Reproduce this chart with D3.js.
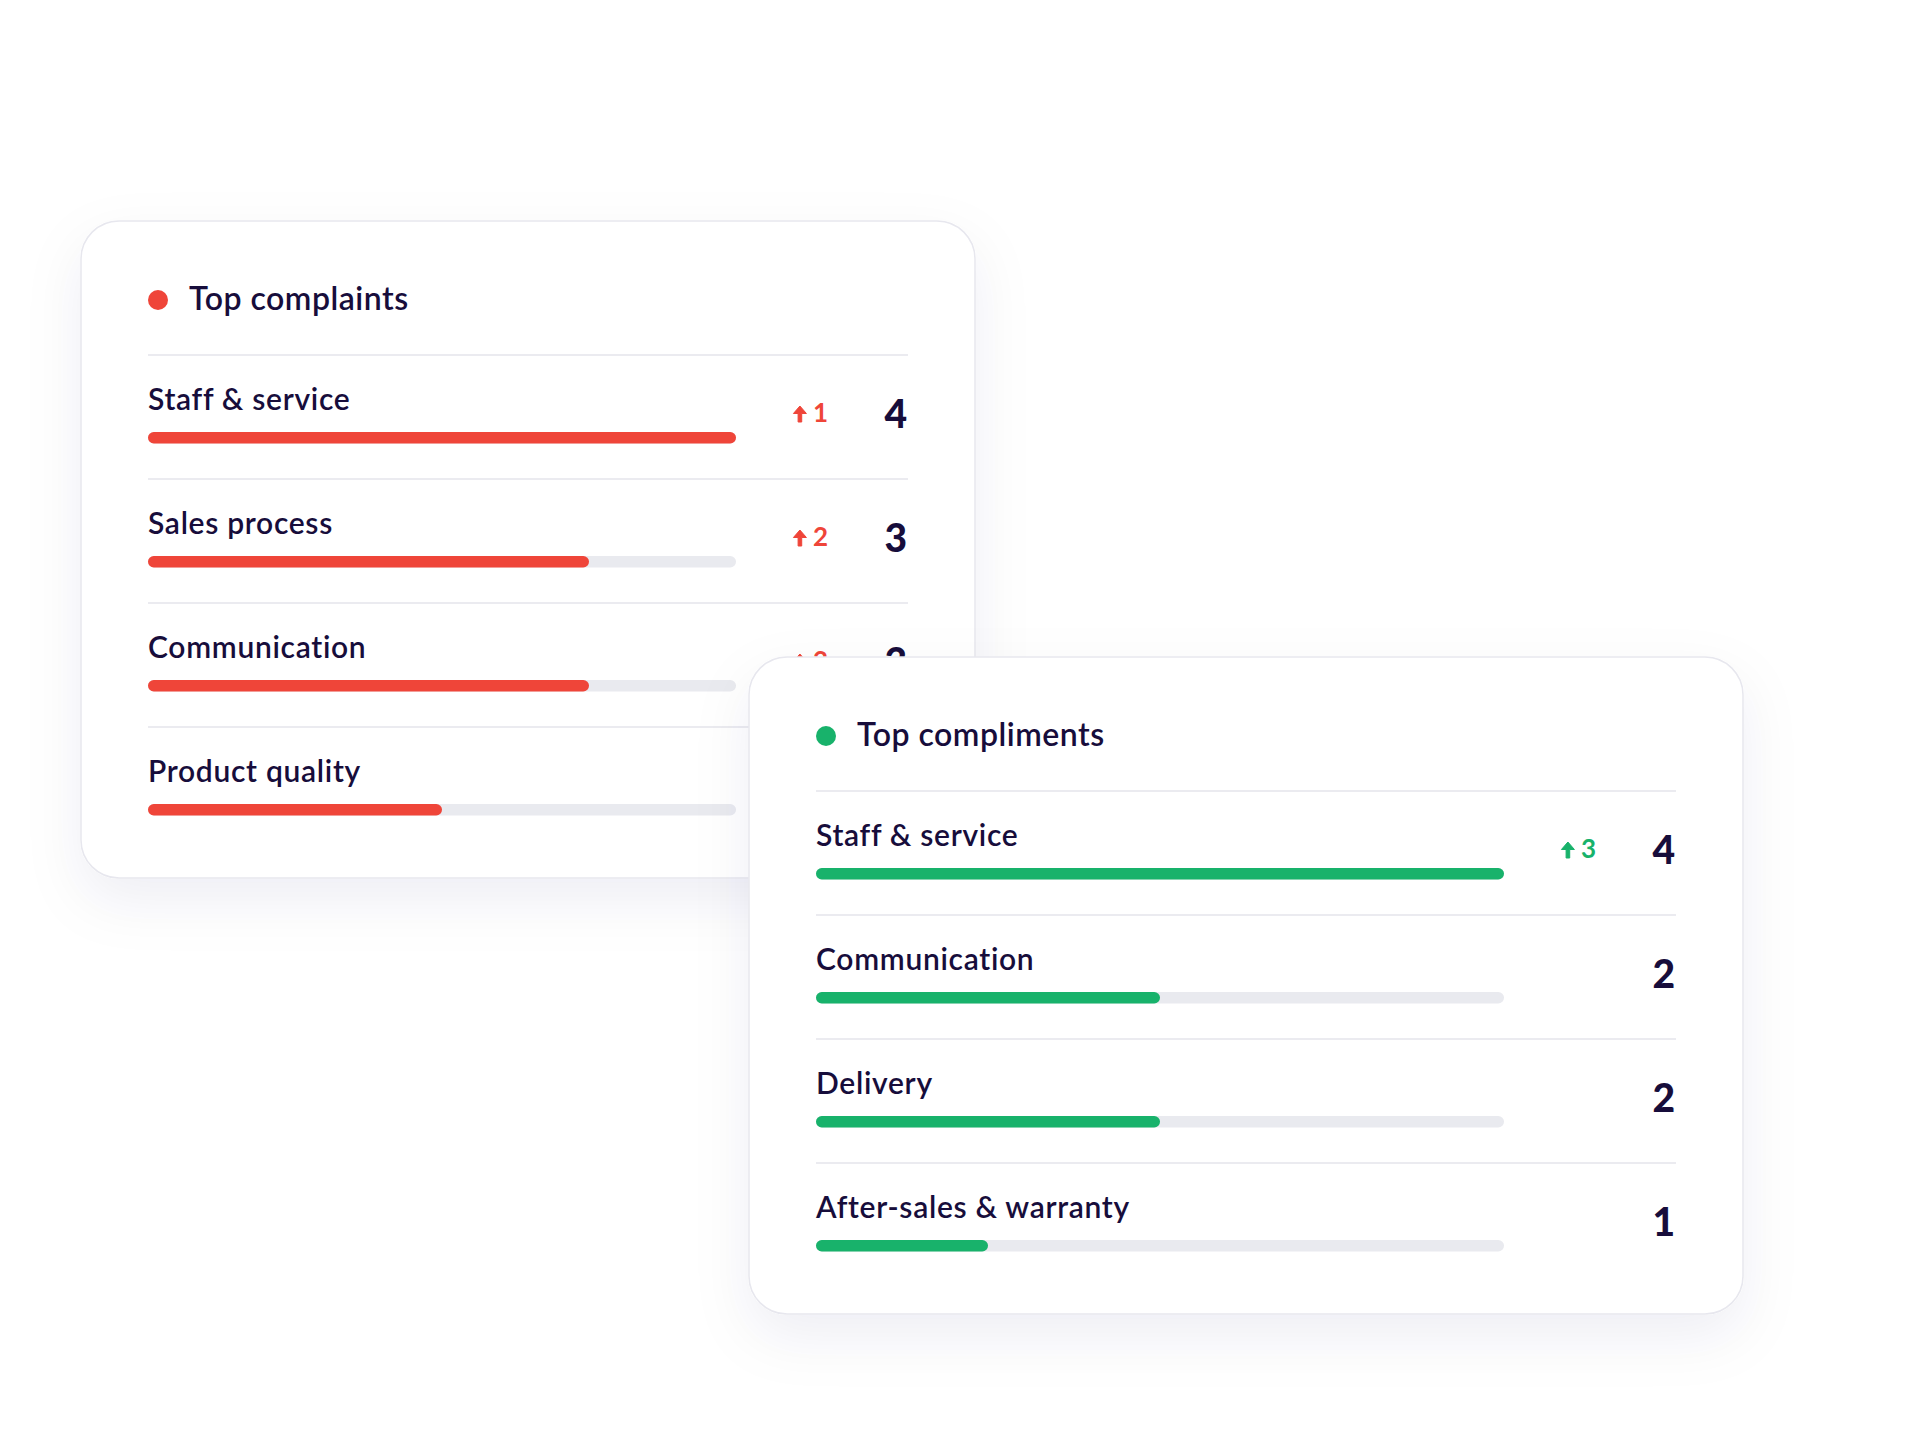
<!DOCTYPE html>
<html>
<head>
<meta charset="utf-8">
<script src="https://cdn.jsdelivr.net/npm/d3@7"></script>
<style>
  html, body { margin: 0; padding: 0; background: #ffffff; }
  svg { display: block; font-family: Lato, "Noto Sans", sans-serif; }
</style>
</head>
<body>
<div id="chart-area"></div>
<script>
// Data
let complaintCategories = ["Staff & service", "Sales process", "Communication", "Product quality"];
let complaintValues = [4, 3, 3, 2];
let complaintDeltas = [1, 2, 2, null];

let complimentCategories = ["Staff & service", "Communication", "Delivery", "After-sales & warranty"];
let complimentValues = [4, 2, 2, 1];
let complimentDeltas = [3, null, null, null];

let scaleMax = 4;

// Colours
let textColor = "#170d3b";
let red = "#ef4539";
let green = "#18b26b";
let trackColor = "#e9eaef";
let lineColor = "#ebebf0";

let width = 1920, height = 1440;

let svg = d3.select("#chart-area").append("svg")
    .attr("width", width)
    .attr("height", height);

svg.append("rect")
    .attr("width", width)
    .attr("height", height)
    .attr("fill", "#ffffff");

// Soft card shadow
let filter = svg.append("defs").append("filter")
    .attr("id", "card-shadow")
    .attr("x", "-20%").attr("y", "-20%")
    .attr("width", "140%").attr("height", "150%");
filter.append("feDropShadow")
    .attr("dx", 0)
    .attr("dy", 22)
    .attr("stdDeviation", 28)
    .attr("flood-color", "#1c1c55")
    .attr("flood-opacity", 0.065);

// Shared layout inside a card
let pad = 67,
    headerH = 134,
    rowH = 124,
    sideW = 172;

function drawCard(opts) {
    let g = svg.append("g")
        .attr("transform", "translate(" + opts.x + "," + opts.y + ")");

    g.append("rect")
        .attr("width", opts.w)
        .attr("height", opts.h)
        .attr("rx", 38)
        .attr("fill", "#ffffff")
        .attr("stroke", "#e7e7ee")
        .attr("stroke-width", 1.5)
        .attr("filter", "url(#card-shadow)");

    // Header
    g.append("circle")
        .attr("cx", pad + 10)
        .attr("cy", 79)
        .attr("r", 10)
        .attr("fill", opts.color);

    g.append("text")
        .attr("x", pad + 41)
        .attr("y", 89)
        .attr("fill", textColor)
        .attr("font-size", 32)
        .attr("font-weight", 600)
        .attr("letter-spacing", 0.5)
        .text(opts.title);

    // Scales
    let barW = opts.w - 2 * pad - sideW;
    let x = d3.scaleLinear()
        .domain([0, scaleMax])
        .range([0, barW]);

    let y = d3.scaleBand()
        .domain(opts.categories)
        .range([headerH, headerH + rowH * opts.categories.length]);

    let rows = opts.categories.map(function (c, i) {
        return {name: c, value: opts.values[i], delta: opts.deltas[i]};
    });

    let row = g.selectAll(".row")
        .data(rows)
        .enter().append("g")
        .attr("class", "row")
        .attr("transform", function (d) {
            return "translate(" + pad + "," + y(d.name) + ")";
        });

    row.append("line")
        .attr("x1", 0)
        .attr("x2", opts.w - 2 * pad)
        .attr("stroke", lineColor)
        .attr("stroke-width", 2);

    row.append("text")
        .attr("y", 55)
        .attr("fill", textColor)
        .attr("font-size", 30)
        .attr("font-weight", 600)
        .attr("letter-spacing", 0.7)
        .text(function (d) { return d.name; });

    row.append("rect")
        .attr("y", 77)
        .attr("width", x(scaleMax))
        .attr("height", 11.5)
        .attr("rx", 5.75)
        .attr("fill", trackColor);

    row.append("rect")
        .attr("y", 77)
        .attr("width", function (d) { return x(d.value); })
        .attr("height", 11.5)
        .attr("rx", 5.75)
        .attr("fill", opts.color);

    row.append("text")
        .attr("x", opts.w - 2 * pad - 1)
        .attr("y", 73)
        .attr("text-anchor", "end")
        .attr("fill", textColor)
        .attr("font-size", 39)
        .attr("font-weight", 900)
        .text(function (d) { return d.value; });

    // Change since last period
    let deltaX = opts.w - 2 * pad - 80;
    let delta = row.filter(function (d) { return d.delta != null; });

    delta.append("text")
        .attr("class", "delta")
        .attr("x", deltaX)
        .attr("y", 67)
        .attr("text-anchor", "end")
        .attr("fill", opts.color)
        .attr("font-size", 26)
        .attr("font-weight", 700)
        .text(function (d) { return d.delta; });

    delta.each(function () {
        let r = d3.select(this);
        let tw = r.select(".delta").node().getComputedTextLength();
        let ax = deltaX - tw - 13;
        r.append("path")
            .attr("transform", "translate(" + ax + ",67)")
            .attr("d", "M0,-16 L6.5,-8.5 L1.8,-8.5 L1.8,0 L-1.8,0 L-1.8,-8.5 L-6.5,-8.5 Z")
            .attr("fill", opts.color)
            .attr("stroke", opts.color)
            .attr("stroke-width", 1)
            .attr("stroke-linejoin", "round");
    });
}

drawCard({
    x: 81, y: 221, w: 894, h: 657,
    title: "Top complaints",
    color: red,
    categories: complaintCategories,
    values: complaintValues,
    deltas: complaintDeltas
});

drawCard({
    x: 749, y: 657, w: 994, h: 657,
    title: "Top compliments",
    color: green,
    categories: complimentCategories,
    values: complimentValues,
    deltas: complimentDeltas
});
</script>
</body>
</html>
